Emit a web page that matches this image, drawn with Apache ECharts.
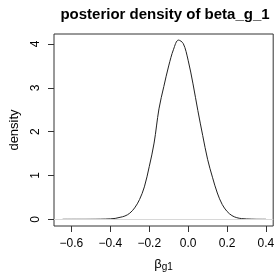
<!DOCTYPE html>
<html>
<head>
<meta charset="utf-8">
<script src="https://cdn.jsdelivr.net/npm/echarts@6/dist/echarts.min.js"></script>
<style>
html,body{margin:0;padding:0;background:#fff;}
#c{width:277px;height:277px;}
</style>
</head>
<body>
<div id="c"></div>
<script>
// Data
var xValues = [-0.645, -0.6, -0.55, -0.5, -0.45, -0.4, -0.375, -0.35, -0.325, -0.3, -0.275, -0.25, -0.225, -0.2, -0.175, -0.15, -0.125, -0.1, -0.075, -0.05, -0.025, 0, 0.025, 0.05, 0.075, 0.1, 0.125, 0.15, 0.175, 0.2, 0.225, 0.25, 0.275, 0.3, 0.325, 0.35, 0.375, 0.4];
var densityValues = [0, 0, 0, 0.001, 0.003, 0.01, 0.02, 0.045, 0.075, 0.14, 0.26, 0.45, 0.74, 1.20, 1.74, 2.52, 3.03, 3.50, 3.88, 4.09, 4.01, 3.63, 3.09, 2.48, 1.91, 1.37, 0.96, 0.60, 0.34, 0.18, 0.085, 0.037, 0.016, 0.008, 0.004, 0.001, 0, 0];
var xTicks = [-0.6, -0.4, -0.2, 0.0, 0.2, 0.4];
var yTicks = [0, 1, 2, 3, 4];
var titleText = 'posterior density of beta_g_1';
var yName = 'density';

var seriesData = xValues.map(function (x, i) { return [x, densityValues[i]]; });
var font = 'Liberation Sans, Arial, Helvetica, sans-serif';

var chart = echarts.init(document.getElementById('c'), null, {renderer: 'canvas'});
chart.setOption({
  animation: false,
  backgroundColor: '#fff',
  title: {
    text: titleText,
    left: 160,
    top: 2,
    textAlign: 'center',
    textStyle: {fontFamily: font, fontWeight: 'bold', fontSize: 15, color: '#000'}
  },
  grid: {
    left: 45, right: 2, top: 34, bottom: 51,
    show: true, borderColor: '#333', borderWidth: 1, backgroundColor: 'transparent'
  },
  xAxis: {
    type: 'value',
    min: -0.6895, max: 0.4372,
    position: 'bottom',
    axisLine: {show: false, onZero: false},
    splitLine: {show: false},
    axisTick: {show: true, length: 6, inside: false, customValues: xTicks, lineStyle: {color: '#333', width: 1}},
    axisLabel: {
      show: true, margin: 12, customValues: xTicks,
      fontFamily: font, fontSize: 12, color: '#000',
      formatter: function (v) { return (v < 0 ? '\u2212' : '') + Math.abs(v).toFixed(1); }
    },
    name: '{b|\u03b2}{s|g1}',
    nameLocation: 'middle',
    nameGap: 30,
    nameTextStyle: {
      rich: {
        b: {fontFamily: font, fontSize: 13, color: '#000'},
        s: {fontFamily: font, fontSize: 10, color: '#000', padding: [6, 0, 0, 0]}
      }
    }
  },
  yAxis: {
    type: 'value',
    min: -0.153, max: 4.229,
    position: 'left',
    axisLine: {show: false, onZero: false},
    splitLine: {show: false},
    axisTick: {show: true, length: 6, inside: false, customValues: yTicks, lineStyle: {color: '#333', width: 1}},
    axisLabel: {
      show: true, margin: 12, rotate: 90, customValues: yTicks,
      fontFamily: font, fontSize: 12, color: '#000',
      formatter: function (v) { return String(Math.round(v)); }
    },
    name: yName,
    nameLocation: 'middle',
    nameGap: 33,
    nameRotate: 90,
    nameTextStyle: {fontFamily: font, fontSize: 13, color: '#000'}
  },
  series: [{
    type: 'line',
    data: seriesData,
    showSymbol: false,
    smooth: 0.35,
    lineStyle: {color: '#222', width: 1},
    markLine: {
      silent: true,
      symbol: 'none',
      label: {show: false},
      lineStyle: {color: '#d8d8d8', type: 'solid', width: 1},
      data: [{yAxis: 0}]
    },
    z: 3
  }]
});
</script>
</body>
</html>
